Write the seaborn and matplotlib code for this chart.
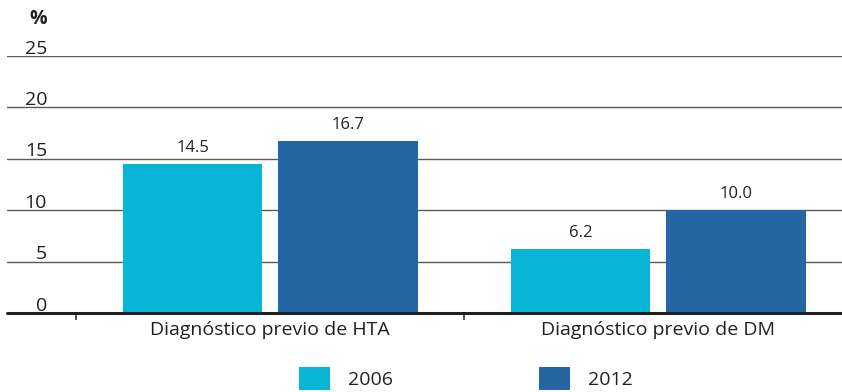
import matplotlib
matplotlib.use("Agg")
import matplotlib.pyplot as plt
import matplotlib.transforms as mtransforms
from matplotlib.patches import Patch
import seaborn as sns
import pandas as pd

categories = ["Diagnóstico previo de HTA", "Diagnóstico previo de DM"]
years = ["2006", "2012"]
values_2006 = [14.5, 6.2]
values_2012 = [16.7, 10.0]
y_ticks = [0, 5, 10, 15, 20, 25]
colors = {"2006": "#09b5d6", "2012": "#2466a1"}

df = pd.DataFrame({
    "categoria": categories * 2,
    "anio": [years[0]] * 2 + [years[1]] * 2,
    "valor": values_2006 + values_2012,
})

sns.set_theme(style="white")
plt.rcParams["font.family"] = ["Open Sans", "DejaVu Sans"]
text_color = "#231f20"
fs = 14

fig = plt.figure(figsize=(8.42, 3.92), dpi=100)
ax = fig.add_axes([7 / 842, 1 - 313 / 392, 835 / 842, (313 - 56) / 392])

sns.barplot(data=df, x="categoria", y="valor", hue="anio", order=categories,
            hue_order=years, palette=colors, width=0.8, gap=0.1,
            saturation=1, linewidth=0, edgecolor="none", ax=ax, legend=False)

for cont in ax.containers:
    ax.bar_label(cont, fmt="%.1f", padding=6, fontsize=12, color=text_color)

ax.set_xlim(-0.678, 1.474)
ax.set_ylim(0, 25)

# horizontal guides
for v in y_ticks[1:]:
    ax.axhline(v, color="#5a5a5a", lw=1.0, zorder=0)
ax.axhline(0, color="#231f20", lw=2.2, zorder=3, clip_on=False)

# value scale written just above each guide line
ax.set_yticks([])
lab_tr = mtransforms.offset_copy(
    mtransforms.blended_transform_factory(ax.transAxes, ax.transData),
    fig=fig, x=0, y=-1.2, units="points")
for v in y_ticks:
    ax.text(40 / 835, v, str(v), ha="right", va="bottom", fontsize=fs,
            color=text_color, transform=lab_tr)
fig.text(47 / 842, 1 - 9 / 392, "%", ha="right", va="top", fontsize=fs,
         color=text_color, fontweight="bold")

# category separators below the baseline
ax.set_xticks([-0.5, 0.5], minor=True)
ax.set_xticks([0, 1])
ax.set_xticklabels(categories, fontsize=fs, color=text_color)
ax.tick_params(axis="x", which="major", length=0, pad=6)
ax.tick_params(axis="x", which="minor", length=5, width=1.2, color="#333333",
               bottom=True, direction="out")
ax.set_xlabel("")
ax.set_ylabel("")
for s in ax.spines.values():
    s.set_visible(False)

handles = [Patch(facecolor=colors[y], edgecolor="none") for y in years]
fig.legend(handles, years, loc="lower center", bbox_to_anchor=(0.553, -0.04),
           ncol=2, frameon=False, fontsize=fs, handlelength=1.6,
           handleheight=1.45, handletextpad=0.93, columnspacing=7.5,
           labelcolor=text_color)

fig.savefig("out.png", dpi=100)
